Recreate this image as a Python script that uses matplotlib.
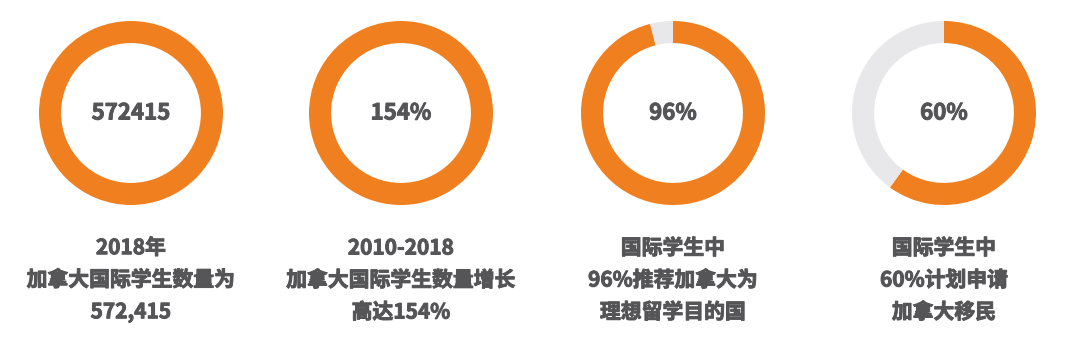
import matplotlib.pyplot as plt
import matplotlib.patheffects as pe

plt.rcParams['font.family'] = ['Noto Sans CJK SC', 'DejaVu Sans']

# data
center_labels = ['572415', '154%', '96%', '60%']
shares = [100, 100, 96, 60]          # orange part of each ring, in %
captions = [
    '2018年\n加拿大国际学生数量为\n572,415',
    '2010-2018\n加拿大国际学生数量增长\n高达154%',
    '国际学生中\n96%推荐加拿大为\n理想留学目的国',
    '国际学生中\n60%计划申请\n加拿大移民',
]

orange = '#EF7F1F'
grey = '#E8E8EA'
text_col = '#555557'

W, H = 1080, 363
fig = plt.figure(figsize=(W / 100, H / 100), dpi=100)
fig.patch.set_facecolor('white')

centers_x = [131, 401, 673, 944]
cy = 113
R = 92
# a thin stroke makes the bold CJK face look as heavy as the original
thick = [pe.withStroke(linewidth=0.7, foreground=text_col)]

for i in range(4):
    cx = centers_x[i]
    ax = fig.add_axes([(cx - R) / W, 1 - (cy + R) / H, 2 * R / W, 2 * R / H])
    ax.pie([shares[i], 100 - shares[i]], colors=[orange, grey], startangle=90,
           counterclock=False, radius=1,
           wedgeprops=dict(width=0.24, linewidth=0))
    ax.set_xlim(-1, 1)
    ax.set_ylim(-1, 1)
    ax.set_aspect('equal')
    ax.axis('off')
    ax.text(0, 0, center_labels[i], ha='center', va='center',
            fontsize=16, fontweight='bold', color=text_col, path_effects=thick)
    fig.text(cx / W, 1 - 280 / H, captions[i], ha='center', va='center',
             fontsize=15, fontweight='bold', color=text_col, linespacing=1.65,
             path_effects=thick)

fig.savefig('out.png', dpi=100, facecolor='white')
